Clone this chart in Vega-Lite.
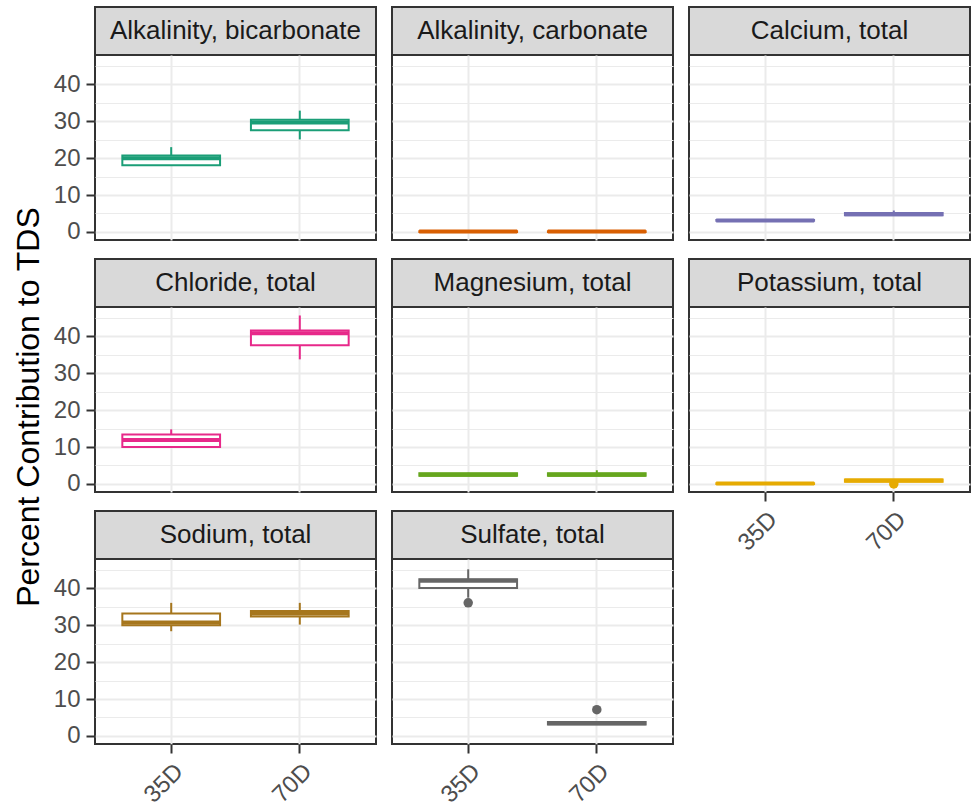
{
  "$schema": "https://vega.github.io/schema/vega-lite/v6.json",
  "padding": {"left": 13, "top": 6, "right": 0, "bottom": 0},
  "background": "white",
  "title": {"text": "Percent Contribution to TDS", "orient": "left", "anchor": "middle", "fontSize": 32, "fontWeight": "normal", "font": "Liberation Sans", "color": "#000000", "offset": 6},
  "config": {
    "font": "Liberation Sans",
    "view": {"stroke": "#333333", "strokeWidth": 2},
    "tick": {"opacity": 1},
    "bar": {"opacity": 1},
    "axis": {"labelFont": "Liberation Sans", "labelFontSize": 24, "labelColor": "#4D4D4D", "tickColor": "#333333", "tickSize": 9, "tickWidth": 2, "domain": false, "gridColor": "#EBEBEB", "gridWidth": 2, "labelPadding": 6}
  },
  "datasets": {
    "boxes": [
      {"panel": "Alkalinity, bicarbonate", "site": "35D", "lower": 18.1, "q1": 18.1, "median": 20.0, "q3": 20.7, "upper": 23.0},
      {"panel": "Alkalinity, bicarbonate", "site": "70D", "lower": 25.1, "q1": 27.6, "median": 29.7, "q3": 30.4, "upper": 32.9},
      {"panel": "Alkalinity, carbonate", "site": "35D", "lower": 0.0, "q1": 0.0, "median": 0.1, "q3": 0.2, "upper": 0.2},
      {"panel": "Alkalinity, carbonate", "site": "70D", "lower": 0.0, "q1": 0.0, "median": 0.1, "q3": 0.2, "upper": 0.2},
      {"panel": "Calcium, total", "site": "35D", "lower": 2.9, "q1": 3.0, "median": 3.1, "q3": 3.2, "upper": 3.3},
      {"panel": "Calcium, total", "site": "70D", "lower": 4.4, "q1": 4.5, "median": 4.8, "q3": 5.1, "upper": 5.8},
      {"panel": "Chloride, total", "site": "35D", "lower": 10.0, "q1": 10.0, "median": 11.9, "q3": 13.4, "upper": 14.8},
      {"panel": "Chloride, total", "site": "70D", "lower": 33.8, "q1": 37.6, "median": 40.9, "q3": 41.6, "upper": 45.7},
      {"panel": "Magnesium, total", "site": "35D", "lower": 2.2, "q1": 2.2, "median": 2.5, "q3": 2.9, "upper": 3.0},
      {"panel": "Magnesium, total", "site": "70D", "lower": 2.2, "q1": 2.2, "median": 2.5, "q3": 2.9, "upper": 3.7},
      {"panel": "Potassium, total", "site": "35D", "lower": 0.0, "q1": 0.0, "median": 0.1, "q3": 0.2, "upper": 0.2},
      {"panel": "Potassium, total", "site": "70D", "lower": 0.6, "q1": 0.6, "median": 0.9, "q3": 1.2, "upper": 1.3},
      {"panel": "Sodium, total", "site": "35D", "lower": 28.4, "q1": 30.0, "median": 30.8, "q3": 33.2, "upper": 36.1},
      {"panel": "Sodium, total", "site": "70D", "lower": 30.2, "q1": 32.4, "median": 33.2, "q3": 33.9, "upper": 36.1},
      {"panel": "Sulfate, total", "site": "35D", "lower": 37.5, "q1": 40.1, "median": 42.1, "q3": 42.5, "upper": 45.2},
      {"panel": "Sulfate, total", "site": "70D", "lower": 3.1, "q1": 3.1, "median": 3.4, "q3": 3.8, "upper": 3.8}
    ],
    "outliers": [
      {"panel": "Potassium, total", "site": "70D", "value": 0.0},
      {"panel": "Sulfate, total", "site": "35D", "value": 36.1},
      {"panel": "Sulfate, total", "site": "70D", "value": 7.1}
    ]
  },
  "bounds": "flush",
  "columns": 3,
  "spacing": {"row": 0, "column": 16},
  "concat": [
    {"width": 281, "height": 48, "data": {"values": [{"label": "Alkalinity, bicarbonate"}]}, "mark": {"type": "text", "fontSize": 26, "color": "#1A1A1A", "font": "Liberation Sans"}, "encoding": {"text": {"field": "label"}}, "view": {"fill": "#D9D9D9", "stroke": "#333333", "strokeWidth": 2}},
    {"width": 281, "height": 48, "data": {"values": [{"label": "Alkalinity, carbonate"}]}, "mark": {"type": "text", "fontSize": 26, "color": "#1A1A1A", "font": "Liberation Sans"}, "encoding": {"text": {"field": "label"}}, "view": {"fill": "#D9D9D9", "stroke": "#333333", "strokeWidth": 2}},
    {"width": 281, "height": 48, "data": {"values": [{"label": "Calcium, total"}]}, "mark": {"type": "text", "fontSize": 26, "color": "#1A1A1A", "font": "Liberation Sans"}, "encoding": {"text": {"field": "label"}}, "view": {"fill": "#D9D9D9", "stroke": "#333333", "strokeWidth": 2}},

    {"width": 281, "height": 185,
     "data": {"name": "boxes"},
     "encoding": {
       "x": {"field": "site", "type": "nominal", "title": null, "scale": {"domain": ["35D", "70D"], "paddingInner": 0, "paddingOuter": 0.0925}, "axis": {"labels": false, "ticks": false, "grid": true, "bandPosition": 0.5, "title": null}},
       "color": {"field": "panel", "type": "nominal", "legend": null, "scale": {"domain": ["Alkalinity, bicarbonate", "Alkalinity, carbonate", "Calcium, total", "Chloride, total", "Magnesium, total", "Potassium, total", "Sodium, total", "Sulfate, total"], "range": ["#1B9E77", "#D95F02", "#7570B3", "#E7298A", "#66A61E", "#E6AB02", "#A6761D", "#666666"]}}
     },
     "transform": [{"filter": {"field": "panel", "equal": "Alkalinity, bicarbonate"}}],
     "layer": [
      {"mark": {"type": "rule", "strokeWidth": 2},
       "encoding": {"y": {"field": "lower", "type": "quantitative", "title": null, "scale": {"domain": [-2.2, 48.0], "nice": false, "zero": false}, "axis": {"values": [0,5,10,15,20,25,30,35,40,45], "labelExpr": "datum.value % 10 === 0 ? datum.label : ''", "tickOpacity": {"condition": {"test": "datum.value % 10 === 0", "value": 1}, "value": 0}, "gridWidth": {"condition": {"test": "datum.value % 10 === 0", "value": 2}, "value": 1}, "title": null}}, "y2": {"field": "upper"}}},
      {"mark": {"type": "bar", "fill": "white", "strokeWidth": 2, "width": {"band": 0.76}},
       "encoding": {"y": {"field": "q1", "type": "quantitative", "title": null, "scale": {"domain": [-2.2, 48.0], "nice": false, "zero": false}, "axis": {"values": [0,5,10,15,20,25,30,35,40,45], "labelExpr": "datum.value % 10 === 0 ? datum.label : ''", "tickOpacity": {"condition": {"test": "datum.value % 10 === 0", "value": 1}, "value": 0}, "gridWidth": {"condition": {"test": "datum.value % 10 === 0", "value": 2}, "value": 1}, "title": null}}, "y2": {"field": "q3"},
        "fill": {"value": "white"},
        "stroke": {"field": "panel", "type": "nominal", "legend": null, "scale": {"domain": ["Alkalinity, bicarbonate", "Alkalinity, carbonate", "Calcium, total", "Chloride, total", "Magnesium, total", "Potassium, total", "Sodium, total", "Sulfate, total"], "range": ["#1B9E77", "#D95F02", "#7570B3", "#E7298A", "#66A61E", "#E6AB02", "#A6761D", "#666666"]}}}},
      {"mark": {"type": "tick", "thickness": 4, "size": 98, "opacity": 1},
       "encoding": {"y": {"field": "median", "type": "quantitative", "title": null, "scale": {"domain": [-2.2, 48.0], "nice": false, "zero": false}, "axis": {"values": [0,5,10,15,20,25,30,35,40,45], "labelExpr": "datum.value % 10 === 0 ? datum.label : ''", "tickOpacity": {"condition": {"test": "datum.value % 10 === 0", "value": 1}, "value": 0}, "gridWidth": {"condition": {"test": "datum.value % 10 === 0", "value": 2}, "value": 1}, "title": null}}}}
     ]},
    {"width": 281, "height": 185,
     "data": {"name": "boxes"},
     "encoding": {
       "x": {"field": "site", "type": "nominal", "title": null, "scale": {"domain": ["35D", "70D"], "paddingInner": 0, "paddingOuter": 0.0925}, "axis": {"labels": false, "ticks": false, "grid": true, "bandPosition": 0.5, "title": null}},
       "color": {"field": "panel", "type": "nominal", "legend": null, "scale": {"domain": ["Alkalinity, bicarbonate", "Alkalinity, carbonate", "Calcium, total", "Chloride, total", "Magnesium, total", "Potassium, total", "Sodium, total", "Sulfate, total"], "range": ["#1B9E77", "#D95F02", "#7570B3", "#E7298A", "#66A61E", "#E6AB02", "#A6761D", "#666666"]}}
     },
     "transform": [{"filter": {"field": "panel", "equal": "Alkalinity, carbonate"}}],
     "layer": [
      {"mark": {"type": "rule", "strokeWidth": 2},
       "encoding": {"y": {"field": "lower", "type": "quantitative", "title": null, "scale": {"domain": [-2.2, 48.0], "nice": false, "zero": false}, "axis": {"values": [0,5,10,15,20,25,30,35,40,45], "labels": false, "ticks": false, "gridWidth": {"condition": {"test": "datum.value % 10 === 0", "value": 2}, "value": 1}, "title": null}}, "y2": {"field": "upper"}}},
      {"mark": {"type": "bar", "fill": "white", "strokeWidth": 2, "width": {"band": 0.76}},
       "encoding": {"y": {"field": "q1", "type": "quantitative", "title": null, "scale": {"domain": [-2.2, 48.0], "nice": false, "zero": false}, "axis": {"values": [0,5,10,15,20,25,30,35,40,45], "labels": false, "ticks": false, "gridWidth": {"condition": {"test": "datum.value % 10 === 0", "value": 2}, "value": 1}, "title": null}}, "y2": {"field": "q3"},
        "fill": {"value": "white"},
        "stroke": {"field": "panel", "type": "nominal", "legend": null, "scale": {"domain": ["Alkalinity, bicarbonate", "Alkalinity, carbonate", "Calcium, total", "Chloride, total", "Magnesium, total", "Potassium, total", "Sodium, total", "Sulfate, total"], "range": ["#1B9E77", "#D95F02", "#7570B3", "#E7298A", "#66A61E", "#E6AB02", "#A6761D", "#666666"]}}}},
      {"mark": {"type": "tick", "thickness": 4, "size": 98, "opacity": 1},
       "encoding": {"y": {"field": "median", "type": "quantitative", "title": null, "scale": {"domain": [-2.2, 48.0], "nice": false, "zero": false}, "axis": {"values": [0,5,10,15,20,25,30,35,40,45], "labels": false, "ticks": false, "gridWidth": {"condition": {"test": "datum.value % 10 === 0", "value": 2}, "value": 1}, "title": null}}}}
     ]},
    {"width": 281, "height": 185,
     "data": {"name": "boxes"},
     "encoding": {
       "x": {"field": "site", "type": "nominal", "title": null, "scale": {"domain": ["35D", "70D"], "paddingInner": 0, "paddingOuter": 0.0925}, "axis": {"labels": false, "ticks": false, "grid": true, "bandPosition": 0.5, "title": null}},
       "color": {"field": "panel", "type": "nominal", "legend": null, "scale": {"domain": ["Alkalinity, bicarbonate", "Alkalinity, carbonate", "Calcium, total", "Chloride, total", "Magnesium, total", "Potassium, total", "Sodium, total", "Sulfate, total"], "range": ["#1B9E77", "#D95F02", "#7570B3", "#E7298A", "#66A61E", "#E6AB02", "#A6761D", "#666666"]}}
     },
     "transform": [{"filter": {"field": "panel", "equal": "Calcium, total"}}],
     "layer": [
      {"mark": {"type": "rule", "strokeWidth": 2},
       "encoding": {"y": {"field": "lower", "type": "quantitative", "title": null, "scale": {"domain": [-2.2, 48.0], "nice": false, "zero": false}, "axis": {"values": [0,5,10,15,20,25,30,35,40,45], "labels": false, "ticks": false, "gridWidth": {"condition": {"test": "datum.value % 10 === 0", "value": 2}, "value": 1}, "title": null}}, "y2": {"field": "upper"}}},
      {"mark": {"type": "bar", "fill": "white", "strokeWidth": 2, "width": {"band": 0.76}},
       "encoding": {"y": {"field": "q1", "type": "quantitative", "title": null, "scale": {"domain": [-2.2, 48.0], "nice": false, "zero": false}, "axis": {"values": [0,5,10,15,20,25,30,35,40,45], "labels": false, "ticks": false, "gridWidth": {"condition": {"test": "datum.value % 10 === 0", "value": 2}, "value": 1}, "title": null}}, "y2": {"field": "q3"},
        "fill": {"value": "white"},
        "stroke": {"field": "panel", "type": "nominal", "legend": null, "scale": {"domain": ["Alkalinity, bicarbonate", "Alkalinity, carbonate", "Calcium, total", "Chloride, total", "Magnesium, total", "Potassium, total", "Sodium, total", "Sulfate, total"], "range": ["#1B9E77", "#D95F02", "#7570B3", "#E7298A", "#66A61E", "#E6AB02", "#A6761D", "#666666"]}}}},
      {"mark": {"type": "tick", "thickness": 4, "size": 98, "opacity": 1},
       "encoding": {"y": {"field": "median", "type": "quantitative", "title": null, "scale": {"domain": [-2.2, 48.0], "nice": false, "zero": false}, "axis": {"values": [0,5,10,15,20,25,30,35,40,45], "labels": false, "ticks": false, "gridWidth": {"condition": {"test": "datum.value % 10 === 0", "value": 2}, "value": 1}, "title": null}}}}
     ]},

    {"width": 281, "height": 19, "data": {"values": [{}]}, "mark": {"type": "text"}, "encoding": {"text": {"value": ""}}, "view": {"stroke": null}},
    {"width": 281, "height": 19, "data": {"values": [{}]}, "mark": {"type": "text"}, "encoding": {"text": {"value": ""}}, "view": {"stroke": null}},
    {"width": 281, "height": 19, "data": {"values": [{}]}, "mark": {"type": "text"}, "encoding": {"text": {"value": ""}}, "view": {"stroke": null}},

    {"width": 281, "height": 48, "data": {"values": [{"label": "Chloride, total"}]}, "mark": {"type": "text", "fontSize": 26, "color": "#1A1A1A", "font": "Liberation Sans"}, "encoding": {"text": {"field": "label"}}, "view": {"fill": "#D9D9D9", "stroke": "#333333", "strokeWidth": 2}},
    {"width": 281, "height": 48, "data": {"values": [{"label": "Magnesium, total"}]}, "mark": {"type": "text", "fontSize": 26, "color": "#1A1A1A", "font": "Liberation Sans"}, "encoding": {"text": {"field": "label"}}, "view": {"fill": "#D9D9D9", "stroke": "#333333", "strokeWidth": 2}},
    {"width": 281, "height": 48, "data": {"values": [{"label": "Potassium, total"}]}, "mark": {"type": "text", "fontSize": 26, "color": "#1A1A1A", "font": "Liberation Sans"}, "encoding": {"text": {"field": "label"}}, "view": {"fill": "#D9D9D9", "stroke": "#333333", "strokeWidth": 2}},

    {"width": 281, "height": 185,
     "data": {"name": "boxes"},
     "encoding": {
       "x": {"field": "site", "type": "nominal", "title": null, "scale": {"domain": ["35D", "70D"], "paddingInner": 0, "paddingOuter": 0.0925}, "axis": {"labels": false, "ticks": false, "grid": true, "bandPosition": 0.5, "title": null}},
       "color": {"field": "panel", "type": "nominal", "legend": null, "scale": {"domain": ["Alkalinity, bicarbonate", "Alkalinity, carbonate", "Calcium, total", "Chloride, total", "Magnesium, total", "Potassium, total", "Sodium, total", "Sulfate, total"], "range": ["#1B9E77", "#D95F02", "#7570B3", "#E7298A", "#66A61E", "#E6AB02", "#A6761D", "#666666"]}}
     },
     "transform": [{"filter": {"field": "panel", "equal": "Chloride, total"}}],
     "layer": [
      {"mark": {"type": "rule", "strokeWidth": 2},
       "encoding": {"y": {"field": "lower", "type": "quantitative", "title": null, "scale": {"domain": [-2.2, 48.0], "nice": false, "zero": false}, "axis": {"values": [0,5,10,15,20,25,30,35,40,45], "labelExpr": "datum.value % 10 === 0 ? datum.label : ''", "tickOpacity": {"condition": {"test": "datum.value % 10 === 0", "value": 1}, "value": 0}, "gridWidth": {"condition": {"test": "datum.value % 10 === 0", "value": 2}, "value": 1}, "title": null}}, "y2": {"field": "upper"}}},
      {"mark": {"type": "bar", "fill": "white", "strokeWidth": 2, "width": {"band": 0.76}},
       "encoding": {"y": {"field": "q1", "type": "quantitative", "title": null, "scale": {"domain": [-2.2, 48.0], "nice": false, "zero": false}, "axis": {"values": [0,5,10,15,20,25,30,35,40,45], "labelExpr": "datum.value % 10 === 0 ? datum.label : ''", "tickOpacity": {"condition": {"test": "datum.value % 10 === 0", "value": 1}, "value": 0}, "gridWidth": {"condition": {"test": "datum.value % 10 === 0", "value": 2}, "value": 1}, "title": null}}, "y2": {"field": "q3"},
        "fill": {"value": "white"},
        "stroke": {"field": "panel", "type": "nominal", "legend": null, "scale": {"domain": ["Alkalinity, bicarbonate", "Alkalinity, carbonate", "Calcium, total", "Chloride, total", "Magnesium, total", "Potassium, total", "Sodium, total", "Sulfate, total"], "range": ["#1B9E77", "#D95F02", "#7570B3", "#E7298A", "#66A61E", "#E6AB02", "#A6761D", "#666666"]}}}},
      {"mark": {"type": "tick", "thickness": 4, "size": 98, "opacity": 1},
       "encoding": {"y": {"field": "median", "type": "quantitative", "title": null, "scale": {"domain": [-2.2, 48.0], "nice": false, "zero": false}, "axis": {"values": [0,5,10,15,20,25,30,35,40,45], "labelExpr": "datum.value % 10 === 0 ? datum.label : ''", "tickOpacity": {"condition": {"test": "datum.value % 10 === 0", "value": 1}, "value": 0}, "gridWidth": {"condition": {"test": "datum.value % 10 === 0", "value": 2}, "value": 1}, "title": null}}}}
     ]},
    {"width": 281, "height": 185,
     "data": {"name": "boxes"},
     "encoding": {
       "x": {"field": "site", "type": "nominal", "title": null, "scale": {"domain": ["35D", "70D"], "paddingInner": 0, "paddingOuter": 0.0925}, "axis": {"labels": false, "ticks": false, "grid": true, "bandPosition": 0.5, "title": null}},
       "color": {"field": "panel", "type": "nominal", "legend": null, "scale": {"domain": ["Alkalinity, bicarbonate", "Alkalinity, carbonate", "Calcium, total", "Chloride, total", "Magnesium, total", "Potassium, total", "Sodium, total", "Sulfate, total"], "range": ["#1B9E77", "#D95F02", "#7570B3", "#E7298A", "#66A61E", "#E6AB02", "#A6761D", "#666666"]}}
     },
     "transform": [{"filter": {"field": "panel", "equal": "Magnesium, total"}}],
     "layer": [
      {"mark": {"type": "rule", "strokeWidth": 2},
       "encoding": {"y": {"field": "lower", "type": "quantitative", "title": null, "scale": {"domain": [-2.2, 48.0], "nice": false, "zero": false}, "axis": {"values": [0,5,10,15,20,25,30,35,40,45], "labels": false, "ticks": false, "gridWidth": {"condition": {"test": "datum.value % 10 === 0", "value": 2}, "value": 1}, "title": null}}, "y2": {"field": "upper"}}},
      {"mark": {"type": "bar", "fill": "white", "strokeWidth": 2, "width": {"band": 0.76}},
       "encoding": {"y": {"field": "q1", "type": "quantitative", "title": null, "scale": {"domain": [-2.2, 48.0], "nice": false, "zero": false}, "axis": {"values": [0,5,10,15,20,25,30,35,40,45], "labels": false, "ticks": false, "gridWidth": {"condition": {"test": "datum.value % 10 === 0", "value": 2}, "value": 1}, "title": null}}, "y2": {"field": "q3"},
        "fill": {"value": "white"},
        "stroke": {"field": "panel", "type": "nominal", "legend": null, "scale": {"domain": ["Alkalinity, bicarbonate", "Alkalinity, carbonate", "Calcium, total", "Chloride, total", "Magnesium, total", "Potassium, total", "Sodium, total", "Sulfate, total"], "range": ["#1B9E77", "#D95F02", "#7570B3", "#E7298A", "#66A61E", "#E6AB02", "#A6761D", "#666666"]}}}},
      {"mark": {"type": "tick", "thickness": 4, "size": 98, "opacity": 1},
       "encoding": {"y": {"field": "median", "type": "quantitative", "title": null, "scale": {"domain": [-2.2, 48.0], "nice": false, "zero": false}, "axis": {"values": [0,5,10,15,20,25,30,35,40,45], "labels": false, "ticks": false, "gridWidth": {"condition": {"test": "datum.value % 10 === 0", "value": 2}, "value": 1}, "title": null}}}}
     ]},
    {"width": 281, "height": 185,
     "data": {"name": "boxes"},
     "encoding": {
       "x": {"field": "site", "type": "nominal", "title": null, "scale": {"domain": ["35D", "70D"], "paddingInner": 0, "paddingOuter": 0.0925}, "axis": {"labelAngle": -45, "labelAlign": "right", "labelBaseline": "top", "grid": true, "bandPosition": 0.5, "title": null}},
       "color": {"field": "panel", "type": "nominal", "legend": null, "scale": {"domain": ["Alkalinity, bicarbonate", "Alkalinity, carbonate", "Calcium, total", "Chloride, total", "Magnesium, total", "Potassium, total", "Sodium, total", "Sulfate, total"], "range": ["#1B9E77", "#D95F02", "#7570B3", "#E7298A", "#66A61E", "#E6AB02", "#A6761D", "#666666"]}}
     },
     "layer": [
      {"transform": [{"filter": {"field": "panel", "equal": "Potassium, total"}}], "mark": {"type": "rule", "strokeWidth": 2},
       "encoding": {"y": {"field": "lower", "type": "quantitative", "title": null, "scale": {"domain": [-2.2, 48.0], "nice": false, "zero": false}, "axis": {"values": [0,5,10,15,20,25,30,35,40,45], "labels": false, "ticks": false, "gridWidth": {"condition": {"test": "datum.value % 10 === 0", "value": 2}, "value": 1}, "title": null}}, "y2": {"field": "upper"}}},
      {"transform": [{"filter": {"field": "panel", "equal": "Potassium, total"}}], "mark": {"type": "bar", "fill": "white", "strokeWidth": 2, "width": {"band": 0.76}},
       "encoding": {"y": {"field": "q1", "type": "quantitative", "title": null, "scale": {"domain": [-2.2, 48.0], "nice": false, "zero": false}, "axis": {"values": [0,5,10,15,20,25,30,35,40,45], "labels": false, "ticks": false, "gridWidth": {"condition": {"test": "datum.value % 10 === 0", "value": 2}, "value": 1}, "title": null}}, "y2": {"field": "q3"},
        "fill": {"value": "white"},
        "stroke": {"field": "panel", "type": "nominal", "legend": null, "scale": {"domain": ["Alkalinity, bicarbonate", "Alkalinity, carbonate", "Calcium, total", "Chloride, total", "Magnesium, total", "Potassium, total", "Sodium, total", "Sulfate, total"], "range": ["#1B9E77", "#D95F02", "#7570B3", "#E7298A", "#66A61E", "#E6AB02", "#A6761D", "#666666"]}}}},
      {"transform": [{"filter": {"field": "panel", "equal": "Potassium, total"}}], "mark": {"type": "tick", "thickness": 4, "size": 98, "opacity": 1},
       "encoding": {"y": {"field": "median", "type": "quantitative", "title": null, "scale": {"domain": [-2.2, 48.0], "nice": false, "zero": false}, "axis": {"values": [0,5,10,15,20,25,30,35,40,45], "labels": false, "ticks": false, "gridWidth": {"condition": {"test": "datum.value % 10 === 0", "value": 2}, "value": 1}, "title": null}}}},
      {"data": {"name": "outliers"}, "transform": [{"filter": {"field": "panel", "equal": "Potassium, total"}}], "mark": {"type": "circle", "size": 90, "opacity": 1},
       "encoding": {"y": {"field": "value", "type": "quantitative", "title": null, "scale": {"domain": [-2.2, 48.0], "nice": false, "zero": false}, "axis": {"values": [0,5,10,15,20,25,30,35,40,45], "labels": false, "ticks": false, "gridWidth": {"condition": {"test": "datum.value % 10 === 0", "value": 2}, "value": 1}, "title": null}}}}
     ]},

    {"width": 281, "height": 19, "data": {"values": [{}]}, "mark": {"type": "text"}, "encoding": {"text": {"value": ""}}, "view": {"stroke": null}},
    {"width": 281, "height": 19, "data": {"values": [{}]}, "mark": {"type": "text"}, "encoding": {"text": {"value": ""}}, "view": {"stroke": null}},
    {"width": 281, "height": 19, "data": {"values": [{}]}, "mark": {"type": "text"}, "encoding": {"text": {"value": ""}}, "view": {"stroke": null}},

    {"width": 281, "height": 48, "data": {"values": [{"label": "Sodium, total"}]}, "mark": {"type": "text", "fontSize": 26, "color": "#1A1A1A", "font": "Liberation Sans"}, "encoding": {"text": {"field": "label"}}, "view": {"fill": "#D9D9D9", "stroke": "#333333", "strokeWidth": 2}},
    {"width": 281, "height": 48, "data": {"values": [{"label": "Sulfate, total"}]}, "mark": {"type": "text", "fontSize": 26, "color": "#1A1A1A", "font": "Liberation Sans"}, "encoding": {"text": {"field": "label"}}, "view": {"fill": "#D9D9D9", "stroke": "#333333", "strokeWidth": 2}},
    {"width": 281, "height": 48, "data": {"values": [{}]}, "mark": {"type": "text"}, "encoding": {"text": {"value": ""}}, "view": {"stroke": null}},

    {"width": 281, "height": 185,
     "data": {"name": "boxes"},
     "encoding": {
       "x": {"field": "site", "type": "nominal", "title": null, "scale": {"domain": ["35D", "70D"], "paddingInner": 0, "paddingOuter": 0.0925}, "axis": {"labelAngle": -45, "labelAlign": "right", "labelBaseline": "top", "grid": true, "bandPosition": 0.5, "title": null}},
       "color": {"field": "panel", "type": "nominal", "legend": null, "scale": {"domain": ["Alkalinity, bicarbonate", "Alkalinity, carbonate", "Calcium, total", "Chloride, total", "Magnesium, total", "Potassium, total", "Sodium, total", "Sulfate, total"], "range": ["#1B9E77", "#D95F02", "#7570B3", "#E7298A", "#66A61E", "#E6AB02", "#A6761D", "#666666"]}}
     },
     "transform": [{"filter": {"field": "panel", "equal": "Sodium, total"}}],
     "layer": [
      {"mark": {"type": "rule", "strokeWidth": 2},
       "encoding": {"y": {"field": "lower", "type": "quantitative", "title": null, "scale": {"domain": [-2.2, 48.0], "nice": false, "zero": false}, "axis": {"values": [0,5,10,15,20,25,30,35,40,45], "labelExpr": "datum.value % 10 === 0 ? datum.label : ''", "tickOpacity": {"condition": {"test": "datum.value % 10 === 0", "value": 1}, "value": 0}, "gridWidth": {"condition": {"test": "datum.value % 10 === 0", "value": 2}, "value": 1}, "title": null}}, "y2": {"field": "upper"}}},
      {"mark": {"type": "bar", "fill": "white", "strokeWidth": 2, "width": {"band": 0.76}},
       "encoding": {"y": {"field": "q1", "type": "quantitative", "title": null, "scale": {"domain": [-2.2, 48.0], "nice": false, "zero": false}, "axis": {"values": [0,5,10,15,20,25,30,35,40,45], "labelExpr": "datum.value % 10 === 0 ? datum.label : ''", "tickOpacity": {"condition": {"test": "datum.value % 10 === 0", "value": 1}, "value": 0}, "gridWidth": {"condition": {"test": "datum.value % 10 === 0", "value": 2}, "value": 1}, "title": null}}, "y2": {"field": "q3"},
        "fill": {"value": "white"},
        "stroke": {"field": "panel", "type": "nominal", "legend": null, "scale": {"domain": ["Alkalinity, bicarbonate", "Alkalinity, carbonate", "Calcium, total", "Chloride, total", "Magnesium, total", "Potassium, total", "Sodium, total", "Sulfate, total"], "range": ["#1B9E77", "#D95F02", "#7570B3", "#E7298A", "#66A61E", "#E6AB02", "#A6761D", "#666666"]}}}},
      {"mark": {"type": "tick", "thickness": 4, "size": 98, "opacity": 1},
       "encoding": {"y": {"field": "median", "type": "quantitative", "title": null, "scale": {"domain": [-2.2, 48.0], "nice": false, "zero": false}, "axis": {"values": [0,5,10,15,20,25,30,35,40,45], "labelExpr": "datum.value % 10 === 0 ? datum.label : ''", "tickOpacity": {"condition": {"test": "datum.value % 10 === 0", "value": 1}, "value": 0}, "gridWidth": {"condition": {"test": "datum.value % 10 === 0", "value": 2}, "value": 1}, "title": null}}}}
     ]},
    {"width": 281, "height": 185,
     "data": {"name": "boxes"},
     "encoding": {
       "x": {"field": "site", "type": "nominal", "title": null, "scale": {"domain": ["35D", "70D"], "paddingInner": 0, "paddingOuter": 0.0925}, "axis": {"labelAngle": -45, "labelAlign": "right", "labelBaseline": "top", "grid": true, "bandPosition": 0.5, "title": null}},
       "color": {"field": "panel", "type": "nominal", "legend": null, "scale": {"domain": ["Alkalinity, bicarbonate", "Alkalinity, carbonate", "Calcium, total", "Chloride, total", "Magnesium, total", "Potassium, total", "Sodium, total", "Sulfate, total"], "range": ["#1B9E77", "#D95F02", "#7570B3", "#E7298A", "#66A61E", "#E6AB02", "#A6761D", "#666666"]}}
     },
     "layer": [
      {"transform": [{"filter": {"field": "panel", "equal": "Sulfate, total"}}], "mark": {"type": "rule", "strokeWidth": 2},
       "encoding": {"y": {"field": "lower", "type": "quantitative", "title": null, "scale": {"domain": [-2.2, 48.0], "nice": false, "zero": false}, "axis": {"values": [0,5,10,15,20,25,30,35,40,45], "labels": false, "ticks": false, "gridWidth": {"condition": {"test": "datum.value % 10 === 0", "value": 2}, "value": 1}, "title": null}}, "y2": {"field": "upper"}}},
      {"transform": [{"filter": {"field": "panel", "equal": "Sulfate, total"}}], "mark": {"type": "bar", "fill": "white", "strokeWidth": 2, "width": {"band": 0.76}},
       "encoding": {"y": {"field": "q1", "type": "quantitative", "title": null, "scale": {"domain": [-2.2, 48.0], "nice": false, "zero": false}, "axis": {"values": [0,5,10,15,20,25,30,35,40,45], "labels": false, "ticks": false, "gridWidth": {"condition": {"test": "datum.value % 10 === 0", "value": 2}, "value": 1}, "title": null}}, "y2": {"field": "q3"},
        "fill": {"value": "white"},
        "stroke": {"field": "panel", "type": "nominal", "legend": null, "scale": {"domain": ["Alkalinity, bicarbonate", "Alkalinity, carbonate", "Calcium, total", "Chloride, total", "Magnesium, total", "Potassium, total", "Sodium, total", "Sulfate, total"], "range": ["#1B9E77", "#D95F02", "#7570B3", "#E7298A", "#66A61E", "#E6AB02", "#A6761D", "#666666"]}}}},
      {"transform": [{"filter": {"field": "panel", "equal": "Sulfate, total"}}], "mark": {"type": "tick", "thickness": 4, "size": 98, "opacity": 1},
       "encoding": {"y": {"field": "median", "type": "quantitative", "title": null, "scale": {"domain": [-2.2, 48.0], "nice": false, "zero": false}, "axis": {"values": [0,5,10,15,20,25,30,35,40,45], "labels": false, "ticks": false, "gridWidth": {"condition": {"test": "datum.value % 10 === 0", "value": 2}, "value": 1}, "title": null}}}},
      {"data": {"name": "outliers"}, "transform": [{"filter": {"field": "panel", "equal": "Sulfate, total"}}], "mark": {"type": "circle", "size": 90, "opacity": 1},
       "encoding": {"y": {"field": "value", "type": "quantitative", "title": null, "scale": {"domain": [-2.2, 48.0], "nice": false, "zero": false}, "axis": {"values": [0,5,10,15,20,25,30,35,40,45], "labels": false, "ticks": false, "gridWidth": {"condition": {"test": "datum.value % 10 === 0", "value": 2}, "value": 1}, "title": null}}}}
     ]}
  ]
}
